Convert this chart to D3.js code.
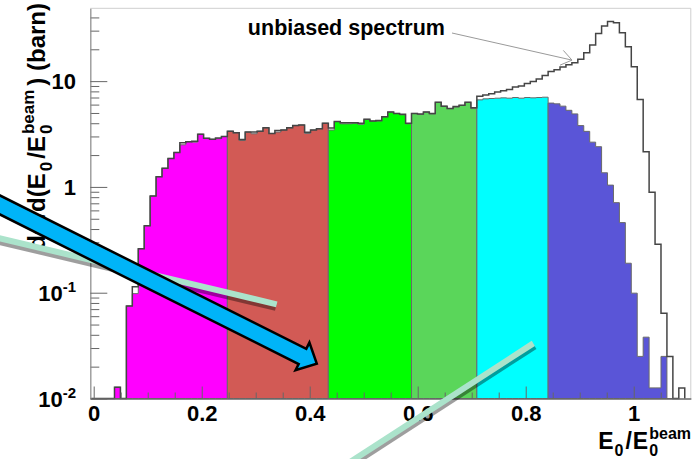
<!DOCTYPE html>
<html><head><meta charset="utf-8">
<script src="https://cdn.jsdelivr.net/npm/d3@7"></script>
<style>html,body{margin:0;padding:0;background:#fff;}svg{display:block;font-family:"Liberation Sans",Arial,Helvetica,sans-serif;}</style>
</head><body><svg id="c" width="692" height="459"></svg>
<script>
// ---- data ----
const binStart = -0.0055, binWidth = 0.011;
const biased = [0,0,0,0,0.0128,0,0.075,0.098,0.26,0.43,
 0.82,1.25,1.5,1.86,2.12,2.5,2.68,2.65,3.15,2.88,
 2.82,2.86,3.0,3.36,3.25,2.75,3.3,3.18,3.36,3.62,
 3.2,3.3,3.45,3.62,3.8,3.85,3.2,3.45,3.55,4.0,
 3.45,4.15,3.95,3.95,4.0,3.9,4.35,4.2,4.2,4.6,
 5.1,4.95,4.8,3.95,4.95,4.85,5.1,4.9,6.3,5.8,
 5.5,5.7,5.9,6.3,5.5,6.65,6.8,6.85,6.9,6.95,
 6.9,7.0,6.9,7.0,6.95,7.0,7.05,6.2,6.1,5.8,
 5.3,4.9,3.8,3.35,2.65,2.4,1.36,1.04,0.71,0.46,
 0.19,0.099,0.025,0.038,0.0126,0.0126,0.025,0,0,0];
const unbiased = [0,0,0,0,0.0128,0,0.075,0.114,0.26,0.43,
 0.82,1.25,1.5,1.86,2.12,2.62,2.68,2.7,3.15,2.88,
 2.82,2.9,3.0,3.36,3.25,2.8,3.3,3.3,3.36,3.62,
 3.2,3.42,3.45,3.62,3.8,3.85,3.28,3.45,3.55,4.0,
 3.6,4.15,4.05,4.05,4.05,4.0,4.35,4.2,4.25,4.6,
 5.1,4.95,4.85,4.0,4.95,4.9,5.1,4.95,6.3,5.8,
 5.5,5.75,5.9,6.3,5.6,7.2,7.4,7.6,7.9,8.1,
 8.35,8.8,9.0,9.5,9.9,10.5,11.3,12.3,12.8,13.6,
 14.3,14.9,16.1,18.5,21.9,28.2,33.2,36.6,35.6,28.6,
 21.1,13.7,6.7,2.15,0.89,0.287,0.064,0.025,0,0.0126];
const regionStart = [4,23,40,54,65,77];
const regionEnd = [22,39,53,64,76,97];
const regionColors = ["#ff00ff","#d25a55","#00ff00","#5ad65a","#00ffff","#5a55d7"];
const xTicks = [0,0.2,0.4,0.6,0.8,1];
const xTickLabels = ["0","0.2","0.4","0.6","0.8","1"];
const yTicks = [0.01,0.1,1,10];
const yTickLabels = [["10","-2"],["10","-1"],["1",""],["10",""]];
const xDomain = [-0.0063, 1.1057];
const yDomain = [0.01, 48.8];
// annotations in data coordinates
const labelText = "unbiased spectrum", labelPos = [0.468, 27.3];
const labelArrow = [[0.6635, 28.5],[0.8857, 15.8]];
const bigArrow = [[-0.2235, 0.905],[0.4131, 0.02138]];
const stickA = [[-0.192, 0.344],[0.3389, 0.0777]];
const stickB = [[0.4748, 0.00251],[0.8141, 0.0332]];

// ---- chart ----
const svg = d3.select("#c");
const x = d3.scaleLinear().domain(xDomain).range([90.3, 690.8]);
const y = d3.scaleLog().domain(yDomain).range([398.5, 8.3]);
const y0 = y(yDomain[0]);
const edge = k => binStart + k*binWidth;
const yv = v => v > yDomain[0] ? y(v) : y0;
const P = p => [x(p[0]), y(p[1])];

svg.append("rect").attr("width",692).attr("height",459).attr("fill","#fff");

function binPoints(vals,k0,k1){
  const pts=[]; for(let k=k0;k<=k1;k++) pts.push([edge(k), vals[k]]);
  pts.push([edge(k1+1), vals[k1]]); return pts;
}
const area = d3.area().curve(d3.curveStepAfter).x(d=>x(d[0])).y0(y0).y1(d=>yv(d[1]));
regionStart.forEach((s,i)=>{
  svg.append("path").attr("d", area(binPoints(biased,s,regionEnd[i])))
    .attr("fill",regionColors[i]).attr("stroke","#6a6a6a").attr("stroke-width",1);
});
const upts = binPoints(unbiased,0,99); upts.push([edge(100),0]);
svg.append("path").attr("d", d3.line().curve(d3.curveStepAfter).x(d=>x(d[0])).y(d=>yv(d[1]))(upts))
  .attr("fill","none").attr("stroke","#454545").attr("stroke-width",1.5);

// frame top/right
svg.append("path").attr("d",`M${x(xDomain[0])},${y(yDomain[1])}H${x(xDomain[1])}V${y0}`)
  .attr("fill","none").attr("stroke","#cfcfcf").attr("stroke-width",1);

// axes
const minorX = d3.range(0,22).map(i=>i*0.05).filter(v=>Math.abs(v*5-Math.round(v*5))>1e-6 && v<=xDomain[1]);
const gxm = svg.append("g").attr("transform",`translate(0,${y0})`)
  .call(d3.axisBottom(x).tickValues(minorX).tickSizeInner(-6).tickSizeOuter(0).tickFormat(""));
const gx = svg.append("g").attr("transform",`translate(0,${y0})`)
  .call(d3.axisBottom(x).tickValues(xTicks).tickSizeInner(-12).tickSizeOuter(0).tickPadding(7).tickFormat((d,i)=>xTickLabels[i]));
const minorY = [];
[0.01,0.1,1,10].forEach(d=>{for(let m=2;m<=9;m++){const v=d*m; if(v<=yDomain[1]) minorY.push(v);}});
const gym = svg.append("g").attr("transform",`translate(${x(xDomain[0])},0)`)
  .call(d3.axisLeft(y).tickValues(minorY).tickSizeInner(-9).tickSizeOuter(0).tickFormat(""));
const gy = svg.append("g").attr("transform",`translate(${x(xDomain[0])},0)`)
  .call(d3.axisLeft(y).tickValues(yTicks).tickSizeInner(-17).tickSizeOuter(0).tickFormat(""));
[gx,gxm,gy,gym].forEach(g=>{g.selectAll(".tick line").attr("stroke","#666");});
gx.select(".domain").attr("stroke","#666"); gxm.select(".domain").attr("stroke","#666");
gy.select(".domain").attr("stroke","#999"); gym.select(".domain").attr("stroke","#999");
gx.selectAll("text").attr("font-size",22).attr("font-weight","bold").attr("fill","#000")
  .attr("font-family",'"Liberation Sans",Arial,sans-serif');

// y tick labels
yTicks.forEach((t,i)=>{
  const tx = svg.append("text").attr("x",76).attr("y",y(t)+8).attr("text-anchor","end")
    .attr("font-size",22).attr("font-weight","bold");
  tx.append("tspan").text(yTickLabels[i][0]);
  if(yTickLabels[i][1]) tx.append("tspan").attr("font-size",15).attr("dy",-9).text(yTickLabels[i][1]);
});

// rich text helper
function rich(g,pieces){
  let cur=0,lastStart=0;
  pieces.forEach(p=>{
    const t=g.append("text").attr("font-size",p.size).attr("font-weight","bold").attr("y",p.dy||0).text(p.t);
    const w=t.node().getComputedTextLength();
    const sx=p.stack?lastStart:cur+(p.gap||0);
    t.attr("x",sx); lastStart=sx; cur=Math.max(cur,sx+w);
  });
  return cur;
}
const xt = svg.append("g");
const xw = rich(xt,[{t:"E",size:23},{t:"0",size:16,dy:7,gap:1},{t:"/",size:23,gap:2},{t:"E",size:23,gap:1},
  {t:"0",size:16,dy:7,gap:1},{t:"beam",size:16,dy:-10,stack:true}]);
xt.attr("transform",`translate(${691-xw},449)`);
const ytl = svg.append("g");
const yw = rich(ytl,[{t:"dσ/d(E",size:24},{t:"0",size:17,dy:7,gap:2},{t:"/E",size:24,gap:3},
  {t:"0",size:17,dy:7,gap:2},{t:"beam",size:17,dy:-11,stack:true},{t:") (barn)",size:24,gap:4}]);
ytl.attr("transform",`translate(45,${3+yw}) rotate(-90)`);

// unbiased annotation
svg.append("text").attr("x",x(labelPos[0])).attr("y",y(labelPos[1])).attr("text-anchor","middle")
  .attr("font-size",21.5).attr("font-weight","bold").text(labelText);
{
  const a=P(labelArrow[0]), b=P(labelArrow[1]);
  const ang=Math.atan2(b[1]-a[1],b[0]-a[0]), L=13, h=0.62;
  svg.append("path").attr("d",`M${a[0]},${a[1]}L${b[0]},${b[1]}M${b[0]-L*Math.cos(ang-h)},${b[1]-L*Math.sin(ang-h)}L${b[0]},${b[1]}L${b[0]-L*Math.cos(ang+h)},${b[1]-L*Math.sin(ang+h)}`)
    .attr("fill","none").attr("stroke","#9a9a9a").attr("stroke-width",1);
}

// mint sticks with shadow
function stick(s,dx,dy){
  const a=P(s[0]), b=P(s[1]);
  svg.append("line").attr("x1",a[0]+dx).attr("y1",a[1]+dy).attr("x2",b[0]+dx).attr("y2",b[1]+dy)
    .attr("stroke","#000").attr("stroke-opacity",0.38).attr("stroke-width",6);
  svg.append("line").attr("x1",a[0]).attr("y1",a[1]).attr("x2",b[0]).attr("y2",b[1])
    .attr("stroke","#abe3cb").attr("stroke-width",6);
}
stick(stickA,-1,3.5);
stick(stickB,1.5,3);

// big arrow
{
  const s=P(bigArrow[0]), t=P(bigArrow[1]);
  const len=Math.hypot(t[0]-s[0],t[1]-s[1]);
  const u=[(t[0]-s[0])/len,(t[1]-s[1])/len], n=[-u[1],u[0]];
  const hw=8.5, headL=16, headW=15.5;
  const b=[t[0]-headL*u[0], t[1]-headL*u[1]];
  const pt=(p,k,m)=>[p[0]+k*n[0]+m*u[0], p[1]+k*n[1]+m*u[1]];
  const pts=[pt(s,-hw,0),pt(b,-hw,0),pt(b,-headW,0),t,pt(b,headW,0),pt(b,hw,0),pt(s,hw,0)];
  svg.append("path").attr("d","M"+pts.map(p=>p.join(",")).join("L")+"Z")
    .attr("fill","#00b4f8").attr("stroke","#000").attr("stroke-width",2.5).attr("stroke-linejoin","miter");
}
</script></body></html>
